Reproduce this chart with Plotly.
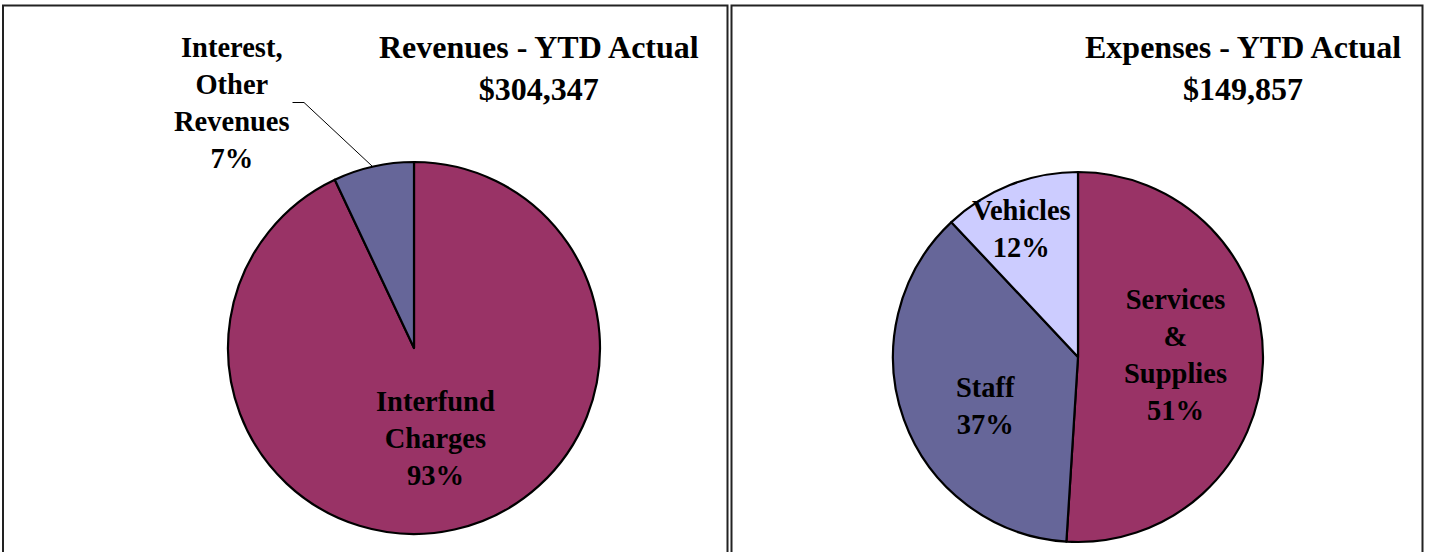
import plotly.graph_objects as go

# ---- data ----
rev_title = "Revenues - YTD Actual"
rev_labels = ["Interfund Charges", "Interest, Other Revenues"]
rev_values = [283043, 21304]
exp_title = "Expenses - YTD Actual"
exp_labels = ["Services & Supplies", "Staff", "Vehicles"]
exp_values = [76427, 55447, 17983]
rev_colors = ["#993366", "#666699"]
exp_colors = ["#993366", "#666699", "#CCCCFF"]

W, H = 1429, 552
FONT = "Liberation Serif, Times New Roman, serif"


def px(x):
    return x / W


def py(y):
    return (H - y) / H


fig = go.Figure()
fig.add_trace(go.Pie(
    labels=rev_labels, values=rev_values, sort=False, direction="clockwise", rotation=0,
    marker=dict(colors=rev_colors, line=dict(color="black", width=2.2)),
    textinfo="none", hoverinfo="label+percent+value", showlegend=False,
    domain=dict(x=[px(228), px(600)], y=[py(534), py(162)]),
))
fig.add_trace(go.Pie(
    labels=exp_labels, values=exp_values, sort=False, direction="clockwise", rotation=0,
    marker=dict(colors=exp_colors, line=dict(color="black", width=2.2)),
    textinfo="none", hoverinfo="label+percent+value", showlegend=False,
    domain=dict(x=[px(892), px(1264)], y=[py(542), py(172)]),
))


def pct(v, vals):
    return f"{round(100 * v / sum(vals))}%"


ann = []
# titles
ann.append(dict(text=f"<b>{rev_title}<br>${sum(rev_values):,}</b>", x=px(539), y=py(67.5),
                font=dict(size=32)))
ann.append(dict(text=f"<b>{exp_title}<br>${sum(exp_values):,}</b>", x=px(1243), y=py(67.5),
                font=dict(size=32)))
# revenue labels
ann.append(dict(text=f"<b>Interfund<br>Charges<br>{pct(rev_values[0], rev_values)}</b>",
                x=px(435), y=py(438), font=dict(size=28.5)))
ann.append(dict(text=f"<b>Interest,<br>Other<br>Revenues<br>{pct(rev_values[1], rev_values)}</b>",
                x=px(232), y=py(102.5), font=dict(size=28.5)))
# expense labels
ann.append(dict(text=f"<b>Services<br>&amp;<br>Supplies<br>{pct(exp_values[0], exp_values)}</b>",
                x=px(1175), y=py(355), font=dict(size=28.5)))
ann.append(dict(text=f"<b>Staff<br>{pct(exp_values[1], exp_values)}</b>",
                x=px(985), y=py(406), font=dict(size=28.5)))
ann.append(dict(text=f"<b>Vehicles<br>{pct(exp_values[2], exp_values)}</b>",
                x=px(1021), y=py(228.5), font=dict(size=28.5)))

for a in ann:
    a.update(xref="paper", yref="paper", xanchor="center", yanchor="middle",
             showarrow=False, align="center")
    a["font"].update(family=FONT, color="black")

shapes = [
    # panel borders
    dict(type="rect", xref="paper", yref="paper", x0=px(3), x1=px(727.5), y0=py(560), y1=py(5.5),
         line=dict(color="#222222", width=2)),
    dict(type="rect", xref="paper", yref="paper", x0=px(731.5), x1=px(1422.5), y0=py(560), y1=py(5.5),
         line=dict(color="#222222", width=2)),
    # leader line
    dict(type="path", xref="paper", yref="paper",
         path=f"M {px(292.5)} {py(102.5)} L {px(304)} {py(102.5)} L {px(372)} {py(166)}",
         line=dict(color="black", width=1)),
]

fig.update_layout(
    width=W, height=H, margin=dict(l=0, r=0, t=0, b=0),
    paper_bgcolor="white", plot_bgcolor="white",
    annotations=ann, shapes=shapes,
)

fig.write_html("out.html", config={"displayModeBar": False},
               post_script="document.body.style.margin='0';document.body.style.overflow='hidden';")
